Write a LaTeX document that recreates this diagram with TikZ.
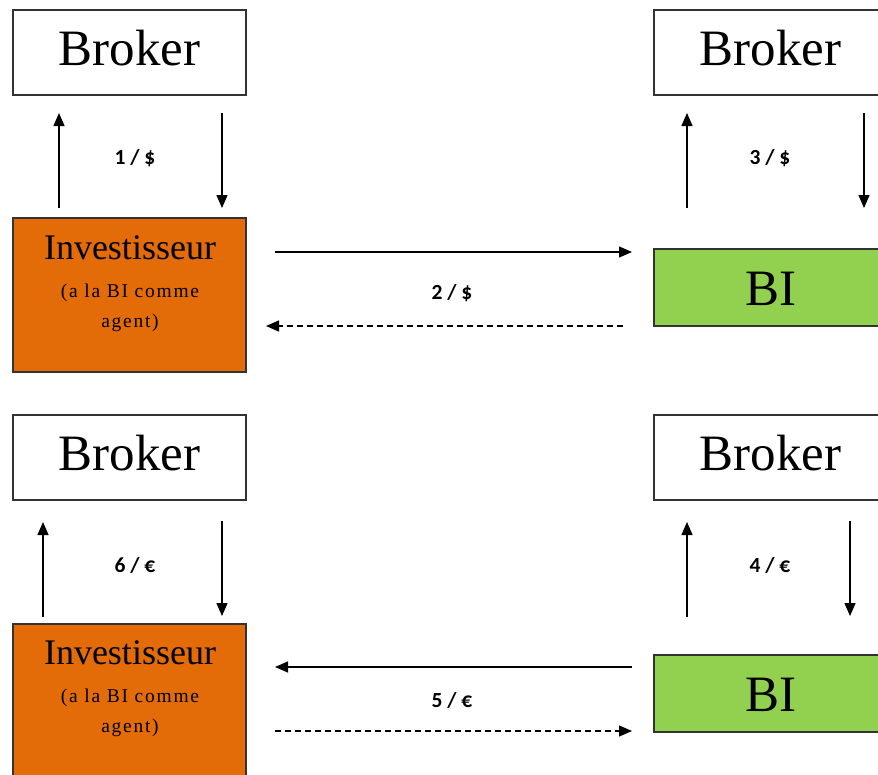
\documentclass[tikz,border=0pt]{standalone}
\usepackage{fontspec}
\setmainfont{Liberation Serif}
\newfontfamily\lblfont{Carlito}
\newfontfamily\subfont{Liberation Serif}[LetterSpace=9]
\usetikzlibrary{arrows.meta}
\definecolor{orangebox}{HTML}{E36C09}
\definecolor{greenbox}{HTML}{92D050}
\definecolor{edgecol}{HTML}{333333}
\begin{document}
\begin{tikzpicture}[x=1pt,y=-1pt,
  box/.style={draw=edgecol, line width=1.4pt, inner sep=0pt, minimum width=233pt},
  brokerbox/.style={box, fill=white, minimum height=85pt},
  invbox/.style={box, fill=orangebox, minimum height=154pt},
  bibox/.style={box, fill=greenbox, minimum height=77pt},
  bigtext/.style={anchor=base, inner sep=0pt, font=\fontsize{51}{60}\selectfont},
  invtext/.style={anchor=base, inner sep=0pt, font=\fontsize{36}{40}\selectfont},
  subtext/.style={anchor=base, inner sep=0pt, font=\subfont\fontsize{19.5}{22}\selectfont},
  lbl/.style={inner sep=0pt, font=\lblfont\bfseries\fontsize{21.5}{24}\selectfont},
  arr/.style={line width=1.3pt, -{Triangle[length=13pt,width=11pt]}},
  darr/.style={arr, dash pattern=on 6pt off 4pt}
]
\useasboundingbox (0,0) rectangle (878,774);

% ---- boxes ----
\node[brokerbox] (brTL) at (129.5,52.5) {};
\node[brokerbox] (brTR) at (770.5,52.5) {};
\node[brokerbox] (brBL) at (129.5,457.5) {};
\node[brokerbox] (brBR) at (770.5,457.5) {};
\node[invbox] (invT) at (129.5,295) {};
\node[invbox] (invB) at (129.5,701) {};
\node[bibox] (biT) at (770.5,287.5) {};
\node[bibox] (biB) at (770.5,693.5) {};

% ---- box texts ----
\node[bigtext] (tBrTL) at (129.5,65) {Broker};
\node[bigtext] (tBrTR) at (770.5,65) {Broker};
\node[bigtext] (tBrBL) at (129.5,470) {Broker};
\node[bigtext] (tBrBR) at (770.5,470) {Broker};
\node[bigtext] (tBiT) at (770.5,305) {BI};
\node[bigtext] (tBiB) at (770.5,711) {BI};
\node[invtext] (tInvT) at (130,259) {Investisseur};
\node[subtext] (sInvT1) at (130,297) {(a la BI comme};
\node[subtext] (sInvT2) at (130,327) {agent)};
\node[invtext] (tInvB) at (130,664) {Investisseur};
\node[subtext] (sInvB1) at (130,702) {(a la BI comme};
\node[subtext] (sInvB2) at (130,732) {agent)};

% ---- labels ----
\node[lbl] (l1) at (135,158) {1 / \$};
\node[lbl] (l2) at (452,293) {2 / \$};
\node[lbl] (l3) at (770,158) {3 / \$};
\node[lbl] (l4) at (770,565) {4 / €};
\node[lbl] (l5) at (452,700) {5 / €};
\node[lbl] (l6) at (135,565) {6 / €};

% ---- connector end points ----
\coordinate (a1s) at (59,208);  \coordinate (a1e) at (59,113);
\coordinate (b1s) at (222,113); \coordinate (b1e) at (222,208);
\coordinate (a3s) at (687,208); \coordinate (a3e) at (687,113);
\coordinate (b3s) at (864,113); \coordinate (b3e) at (864,208);
\coordinate (h2s) at (275,252); \coordinate (h2e) at (632,252);
\coordinate (d2s) at (623,326); \coordinate (d2e) at (266,326);
\coordinate (a6s) at (43,617);  \coordinate (a6e) at (43,522);
\coordinate (b6s) at (222,521); \coordinate (b6e) at (222,616);
\coordinate (a4s) at (687,617); \coordinate (a4e) at (687,522);
\coordinate (b4s) at (850,521); \coordinate (b4e) at (850,616);
\coordinate (h5s) at (632,667); \coordinate (h5e) at (275,667);
\coordinate (d5s) at (275,731); \coordinate (d5e) at (632,731);

% ---- connectors ----
\draw[arr] (a1s) -- (a1e);
\draw[arr] (b1s) -- (b1e);
\draw[arr] (a3s) -- (a3e);
\draw[arr] (b3s) -- (b3e);
\draw[arr] (h2s) -- (h2e);
\draw[darr] (d2s) -- (d2e);
\draw[arr] (a6s) -- (a6e);
\draw[arr] (b6s) -- (b6e);
\draw[arr] (a4s) -- (a4e);
\draw[arr] (b4s) -- (b4e);
\draw[arr] (h5s) -- (h5e);
\draw[darr] (d5s) -- (d5e);
\end{tikzpicture}
\end{document}
